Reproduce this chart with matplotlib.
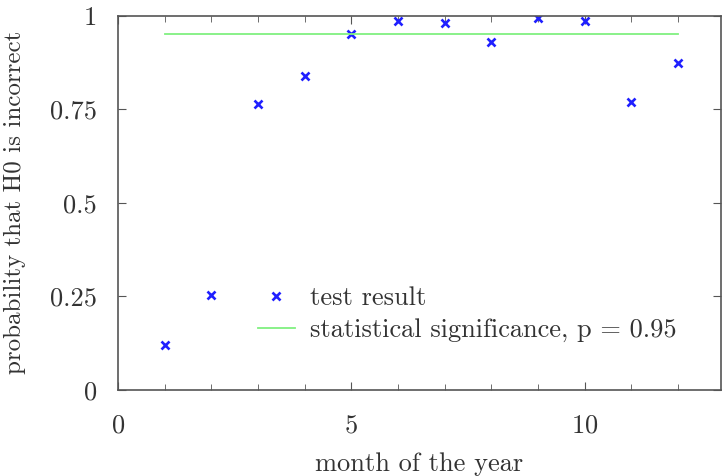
import numpy as np
import matplotlib
matplotlib.use('Agg')
import matplotlib.pyplot as plt
from matplotlib.ticker import MultipleLocator

# month vs probability that H0 is incorrect
month = [1, 2, 3, 4, 5, 6, 7, 8, 9, 10, 11, 12]
prob = [0.120, 0.254, 0.763, 0.840, 0.952, 0.986, 0.980, 0.931, 0.995, 0.986, 0.769, 0.874]
sig_x = [1, 12]
sig_y = [0.95, 0.95]

plt.rcParams['font.family'] = ['cmr10', 'DejaVu Serif']
plt.rcParams['axes.formatter.use_mathtext'] = True
plt.rcParams['mathtext.fontset'] = 'cm'

fig = plt.figure(figsize=(7.24, 4.76), dpi=100)
ax = fig.add_axes([118/724, 1-390/476, (721-118)/724, (390-15.7)/476])

txt = '#333333'
fs = 19
ax.plot(month, prob, linestyle='none', marker='x', color='#2020ff', ms=6, mew=1.9,
        label='test result')
ax.plot(sig_x, sig_y, color='#80f080', lw=1.3,
        label='statistical significance, p = 0.95')

ax.set_xlim(0, 12.92)
ax.set_ylim(0, 1)
ax.xaxis.set_major_locator(MultipleLocator(5))
ax.xaxis.set_minor_locator(MultipleLocator(1))
ax.set_yticks([0, 0.25, 0.5, 0.75, 1])
ax.set_yticklabels(['0', '0.25', '0.5', '0.75', '1'])
ax.tick_params(which='both', direction='in', top=True, right=True, color='#555555')
ax.tick_params(which='major', length=6, labelsize=fs, labelcolor=txt)
ax.tick_params(axis='y', which='major', pad=15)
ax.tick_params(axis='x', which='major', pad=17)
ax.tick_params(which='minor', length=4)
for s in ax.spines.values():
    s.set_color('#555555')
    s.set_linewidth(1.2)

ax.set_xlabel('month of the year', fontsize=fs, color=txt)
ax.xaxis.set_label_coords(0.5, -0.166)
ax.set_ylabel('probability that H0 is incorrect', fontsize=18, color=txt)
ax.yaxis.set_label_coords(-0.152, 0.5)

ax.legend(loc='center left', bbox_to_anchor=(0.232, 0.202), frameon=False, fontsize=fs,
          labelcolor=txt, handlelength=1.4, handletextpad=0.57, labelspacing=0.3,
          borderpad=0, borderaxespad=0)

fig.savefig('out.png', dpi=100)
